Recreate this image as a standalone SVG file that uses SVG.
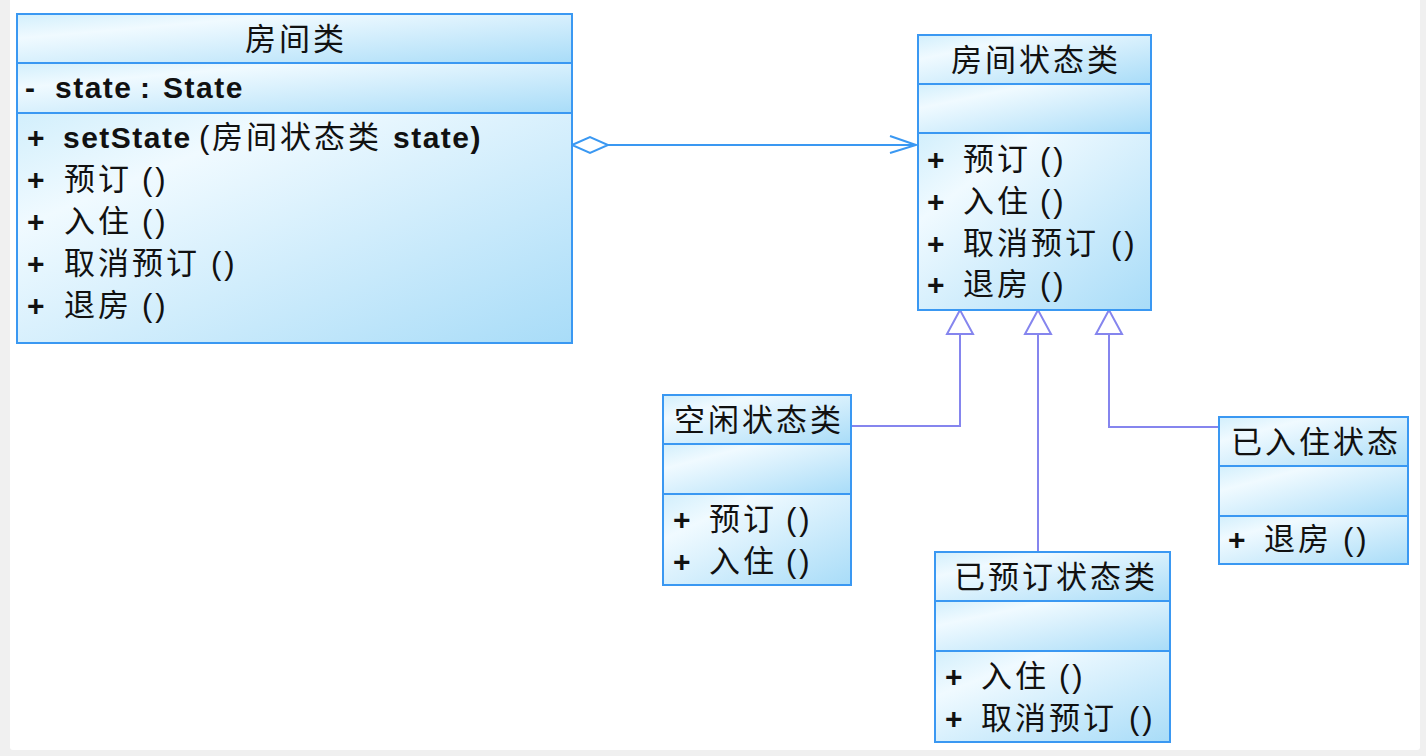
<svg xmlns="http://www.w3.org/2000/svg" width="1426" height="756" viewBox="0 0 1426 756">
<defs>
<linearGradient id="g" x1="0" y1="0" x2="1" y2="1">
<stop offset="0" stop-color="#d2effc"/>
<stop offset="0.25" stop-color="#f0faff"/>
<stop offset="1" stop-color="#a8dcf8"/>
</linearGradient>
<style>
.c{fill:url(#g);stroke:#3a98f2;stroke-width:2}
text{font-family:"Liberation Sans","Noto Sans CJK SC",sans-serif;font-size:31px;fill:#111;letter-spacing:3px}
.b{font-weight:bold;font-size:30px;letter-spacing:1.5px}
.m{text-anchor:middle}
.agg{stroke:#3a98f2;stroke-width:2;fill:none}
.gen{stroke:#8585ee;stroke-width:2;fill:none}
.tri{stroke:#8585ee;stroke-width:2;fill:#fff}
</style>
</defs>
<rect x="0" y="0" width="1426" height="756" fill="#f0f0f0"/>
<rect x="10" y="-5" width="1410" height="755" rx="3" fill="#fff"/>

<g id="connectors">
<line class="agg" x1="608" y1="145" x2="916" y2="145"/>
<polygon class="agg" points="572,145 590,137 608,145 590,153" style="fill:#fff"/>
<polyline class="agg" points="890,136 916,145 890,153"/>
<polyline class="gen" points="960,334 960,426 851,426"/>
<polyline class="gen" points="1038,334 1038,552"/>
<polyline class="gen" points="1109,334 1109,427 1219,427"/>
<polygon class="tri" points="960,310 947,334 973,334"/>
<polygon class="tri" points="1038,310 1025,334 1051,334"/>
<polygon class="tri" points="1109,310 1096,334 1122,334"/>
</g>

<g id="room">
<rect class="c" x="17" y="14" width="555" height="49"/>
<rect class="c" x="17" y="63" width="555" height="50"/>
<rect class="c" x="17" y="113" width="555" height="230"/>
<text class="m" x="296" y="50">房间类</text>
<text y="98"><tspan class="b" x="25">-</tspan><tspan class="b" x="55">state</tspan><tspan class="b" x="140">:</tspan><tspan class="b" x="163">State</tspan></text>
<text y="148"><tspan class="b" x="27">+</tspan><tspan class="b" x="63">setState</tspan><tspan x="199">(</tspan><tspan x="212">房间状态类</tspan><tspan class="b" x="393">state)</tspan></text>
<text y="190"><tspan class="b" x="27">+</tspan><tspan x="64">预订</tspan><tspan x="142">()</tspan></text>
<text y="232"><tspan class="b" x="27">+</tspan><tspan x="64">入住</tspan><tspan x="142">()</tspan></text>
<text y="274"><tspan class="b" x="27">+</tspan><tspan x="64">取消预订</tspan><tspan x="211">()</tspan></text>
<text y="316"><tspan class="b" x="27">+</tspan><tspan x="64">退房</tspan><tspan x="142">()</tspan></text>
</g>

<g id="roomState">
<rect class="c" x="918" y="35" width="233" height="49"/>
<rect class="c" x="918" y="84" width="233" height="49"/>
<rect class="c" x="918" y="133" width="233" height="177"/>
<text class="m" x="1036" y="71">房间状态类</text>
<text y="170"><tspan class="b" x="927">+</tspan><tspan x="963">预订</tspan><tspan x="1040">()</tspan></text>
<text y="212"><tspan class="b" x="927">+</tspan><tspan x="963">入住</tspan><tspan x="1040">()</tspan></text>
<text y="254"><tspan class="b" x="927">+</tspan><tspan x="963">取消预订</tspan><tspan x="1111">()</tspan></text>
<text y="295"><tspan class="b" x="927">+</tspan><tspan x="963">退房</tspan><tspan x="1040">()</tspan></text>
</g>

<g id="idleState">
<rect class="c" x="663" y="395" width="188" height="49"/>
<rect class="c" x="663" y="444" width="188" height="50"/>
<rect class="c" x="663" y="494" width="188" height="91"/>
<text class="m" x="759" y="431">空闲状态类</text>
<text y="530"><tspan class="b" x="673">+</tspan><tspan x="709">预订</tspan><tspan x="786">()</tspan></text>
<text y="572"><tspan class="b" x="673">+</tspan><tspan x="709">入住</tspan><tspan x="786">()</tspan></text>
</g>

<g id="bookedState">
<rect class="c" x="935" y="552" width="235" height="49"/>
<rect class="c" x="935" y="601" width="235" height="50"/>
<rect class="c" x="935" y="651" width="235" height="91"/>
<text class="m" x="1056" y="588">已预订状态类</text>
<text y="687"><tspan class="b" x="945">+</tspan><tspan x="981">入住</tspan><tspan x="1059">()</tspan></text>
<text y="729"><tspan class="b" x="945">+</tspan><tspan x="981">取消预订</tspan><tspan x="1129">()</tspan></text>
</g>

<g id="checkedInState">
<rect class="c" x="1219" y="417" width="189" height="49"/>
<rect class="c" x="1219" y="466" width="189" height="50"/>
<rect class="c" x="1219" y="516" width="189" height="48"/>
<text x="1231" y="453">已入住状态</text>
<text y="550"><tspan class="b" x="1228">+</tspan><tspan x="1264">退房</tspan><tspan x="1343">()</tspan></text>
</g>
</svg>
